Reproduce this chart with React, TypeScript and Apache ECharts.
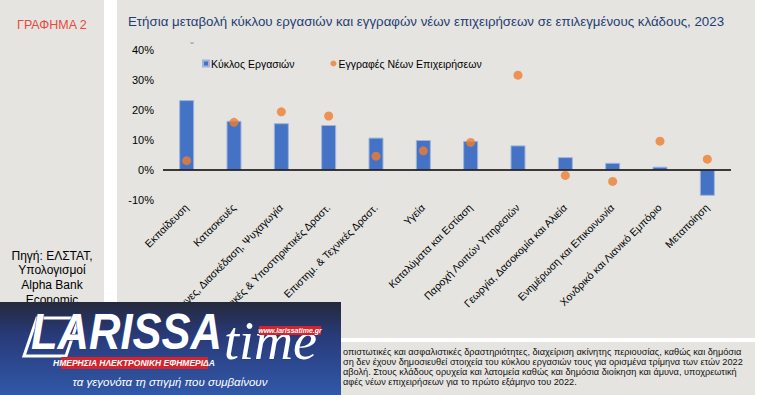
import React, { useEffect, useRef } from "react";
import * as echarts from "echarts";

const categories = [
  "Εκπαίδευση",
  "Κατασκευές",
  "Τέχνες, Διασκέδαση, Ψυχαγωγία",
  "Διοικητικές & Υποστηρικτικές Δραστ.",
  "Επιστημ. & Τεχνικές Δραστ.",
  "Υγεία",
  "Καταλύματα και Εστίαση",
  "Παροχή Λοιπών Υπηρεσιών",
  "Γεωργία, Δασοκομία και Αλιεία",
  "Ενημέρωση και Επικοινωνία",
  "Χονδρικό και Λιανικό Εμπόριο",
  "Μεταποίηση",
];
const turnover = [23.3, 16.4, 15.6, 15.0, 10.8, 10.0, 9.7, 8.2, 4.3, 2.4, 1.1, -8.6];
const registrations = [3.1, 15.9, 19.4, 18.0, 4.6, 6.4, 9.2, 31.6, -1.8, -3.8, 9.6, 3.6];
const seriesNames = ["Κύκλος Εργασιών", "Εγγραφές Νέων Επιχειρήσεων"];
const yMin = -10;
const yMax = 40;
const yInterval = 10;

const titleText =
  "Ετήσια μεταβολή κύκλου εργασιών και εγγραφών νέων επιχειρήσεων σε επιλεγμένους κλάδους, 2023";
const chartLabel = "ΓΡΑΦΗΜΑ 2";
const sourceLines = ["Πηγή: ΕΛΣΤΑΤ,", "Υπολογισμοί", "Alpha Bank", "Economic"];
const footnoteLines = [
  "οπιστωτικές και ασφαλιστικές δραστηριότητες, διαχείριση ακίνητης περιουσίας, καθώς και δημόσια",
  "ση δεν έχουν δημοσιευθεί στοιχεία του κύκλου εργασιών τους για ορισμένα τρίμηνα των ετών 2022",
  "αβολή. Στους κλάδους ορυχεία και λατομεία καθώς και δημόσια διοίκηση και άμυνα, υποχρεωτική",
  "αφές νέων επιχειρήσεων για το πρώτο εξάμηνο του 2022.",
];

const PANEL = "#E5E4E0";
const FONT = "Arial, 'Liberation Sans', sans-serif";

export default function App() {
  const ref = useRef<HTMLDivElement>(null);
  useEffect(() => {
    document.body.style.margin = "0";
    const chart = echarts.init(ref.current!, undefined, { renderer: "svg" });

    const graphic: any[] = [
      // panels
      { type: "rect", z: -10, shape: { x: 0, y: 0, width: 104, height: 395 }, style: { fill: PANEL } },
      { type: "rect", z: -10, shape: { x: 117, y: 0, width: 638, height: 338 }, style: { fill: PANEL } },
      { type: "rect", z: -10, shape: { x: 117, y: 342, width: 638, height: 53 }, style: { fill: PANEL } },
      {
        type: "text",
        z: 5,
        x: 17,
        y: 25,
        style: { text: chartLabel, fill: "#E8493C", font: `12.5px ${FONT}`, textVerticalAlign: "middle" },
      },
      {
        type: "text",
        z: 5,
        x: 128,
        y: 21,
        style: { text: titleText, fill: "#1F3D73", font: `13.3px ${FONT}`, textVerticalAlign: "middle" },
      },
      {
        type: "text",
        z: 5,
        x: 192,
        y: 48,
        style: { text: "ˇ", fill: "#8A9BB8", font: `12px ${FONT}`, textAlign: "center", textVerticalAlign: "middle" },
      },
      ...sourceLines.map((t, i) => ({
        type: "text",
        z: 5,
        x: 52,
        y: 255.5 + i * 14.7,
        style: { text: t, fill: "#000", font: `12px ${FONT}`, textAlign: "center", textVerticalAlign: "middle" },
      })),
      ...footnoteLines.map((t, i) => ({
        type: "text",
        z: 5,
        x: 343,
        y: 352 + i * 10,
        style: { text: t, fill: "#111", font: `9.2px ${FONT}`, textVerticalAlign: "middle" },
      })),
      // logo overlay
      {
        type: "rect",
        z: 100,
        shape: { x: 0, y: 302, width: 341, height: 93 },
        style: {
          fill: new echarts.graphic.LinearGradient(0, 0, 0, 1, [
            { offset: 0, color: "#25293B" },
            { offset: 0.35, color: "#283A78" },
            { offset: 1, color: "#3158A9" },
          ]),
        },
      },
      {
        type: "polygon",
        z: 101,
        shape: { points: [[24, 356], [37, 318], [79, 318], [66, 356]] },
        style: { fill: "none", stroke: "#ffffff", lineWidth: 3 },
      },
      {
        type: "text",
        z: 102,
        x: 31,
        y: 357,
        scaleX: 0.87,
        style: {
          text: "LARISSA",
          fill: "#ffffff",
          stroke: "#1E3C8C",
          lineWidth: 1,
          font: `italic 900 50px ${FONT}`,
          textVerticalAlign: "bottom",
        },
      },
      {
        type: "text",
        z: 102,
        x: 224,
        y: 368,
        style: {
          text: "time",
          fill: "#ffffff",
          stroke: "#1E3C8C",
          lineWidth: 1,
          font: `italic 54px 'Liberation Serif', 'DejaVu Serif', serif`,
          textVerticalAlign: "bottom",
        },
      },
      {
        type: "rect",
        z: 103,
        shape: { x: 259, y: 326, width: 62, height: 9 },
        style: { fill: "#D4232B" },
      },
      {
        type: "text",
        z: 104,
        x: 290,
        y: 330.5,
        style: {
          text: "www.larissatime.gr",
          fill: "#ffffff",
          font: `italic bold 7px ${FONT}`,
          textAlign: "center",
          textVerticalAlign: "middle",
        },
      },
      {
        type: "rect",
        z: 103,
        shape: { x: 61, y: 357, width: 147, height: 12 },
        style: { fill: "#D4232B" },
      },
      {
        type: "text",
        z: 104,
        x: 134,
        y: 363,
        style: {
          text: "ΗΜΕΡΗΣΙΑ ΗΛΕΚΤΡΟΝΙΚΗ ΕΦΗΜΕΡΙΔΑ",
          fill: "#ffffff",
          font: `italic bold 8.5px ${FONT}`,
          textAlign: "center",
          textVerticalAlign: "middle",
        },
      },
      {
        type: "text",
        z: 104,
        x: 170,
        y: 382,
        style: {
          text: "τα γεγονότα τη στιγμή που συμβαίνουν",
          fill: "#ffffff",
          font: `italic 11.5px ${FONT}`,
          textAlign: "center",
          textVerticalAlign: "middle",
        },
      },
    ];

    chart.setOption({
      animation: false,
      backgroundColor: "#ffffff",
      textStyle: { fontFamily: FONT },
      graphic,
      legend: {
        left: 202,
        top: 58,
        padding: 0,
        itemWidth: 6,
        itemHeight: 6,
        itemGap: 36,
        textStyle: { fontSize: 10.5, color: "#000", fontFamily: FONT, padding: [0, 0, 0, -3] },
        data: [
          { name: seriesNames[0], icon: "rect" },
          { name: seriesNames[1], icon: "circle" },
        ],
      },
      grid: { left: 163, right: 28, top: 50, bottom: 195, containLabel: false },
      xAxis: {
        type: "category",
        data: categories,
        position: "bottom",
        axisLine: { show: false, onZero: false },
        axisTick: { show: false },
        splitLine: { show: false },
        axisLabel: {
          rotate: 45,
          interval: 0,
          fontSize: 10.5,
          color: "#000",
          fontFamily: FONT,
          margin: 6,
        },
      },
      yAxis: {
        type: "value",
        min: yMin,
        max: yMax,
        interval: yInterval,
        axisLine: { show: false },
        axisTick: { show: false },
        splitLine: { show: false },
        axisLabel: { formatter: "{value}%", fontSize: 11, color: "#000", fontFamily: FONT, margin: 9 },
      },
      series: [
        {
          name: seriesNames[0],
          type: "bar",
          data: turnover,
          barWidth: 15,
          itemStyle: { color: "#4472C4", borderColor: "#9FB4DC", borderWidth: 1 },
          markLine: {
            silent: true,
            symbol: ["none", "none"],
            label: { show: false },
            lineStyle: { color: "#000", width: 1.5, type: "solid" },
            data: [{ yAxis: 0 }],
          },
        },
        {
          name: seriesNames[1],
          type: "scatter",
          data: registrations,
          symbolSize: 9,
          itemStyle: { color: "#ED7D31" },
          z: 3,
        },
      ],
    });
    return () => chart.dispose();
  }, []);
  return (
    <div
      ref={ref}
      style={{ position: "absolute", left: 0, top: 0, width: 759, height: 395 }}
    />
  );
}
